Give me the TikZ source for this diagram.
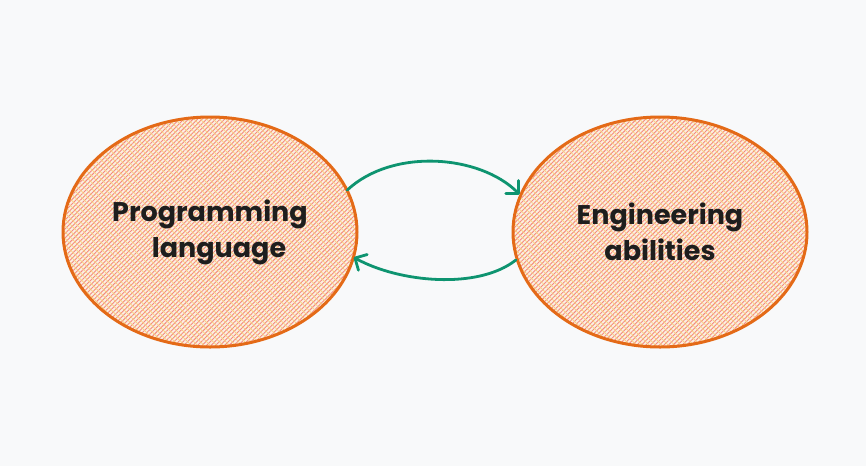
\documentclass[tikz,border=0pt]{standalone}
\usepackage{fontspec}
\setmainfont{Poppins}
\usetikzlibrary{shapes.geometric,patterns.meta,arrows.meta}
\definecolor{bg}{HTML}{F8F9FA}
\definecolor{orangeline}{HTML}{E46A17}
\definecolor{hatchred}{HTML}{F38A80}
\definecolor{hatchyellow}{HTML}{F7C75A}
\definecolor{fillbase}{HTML}{FCEEE2}
\definecolor{arrowgreen}{HTML}{0E9470}
\definecolor{ink}{HTML}{1E1E1E}
\tikzset{
  bubble/.style={ellipse, draw=orangeline, line width=3pt,
    minimum width=294pt, minimum height=230pt, inner sep=0pt,
    preaction={fill=fillbase},
    preaction={pattern={Lines[angle=45,distance=3.2pt,line width=0.9pt]}, pattern color=hatchred},
    pattern={Lines[angle=-45,distance=4.5pt,line width=0.7pt]}, pattern color=hatchyellow!80,
    font=\fontsize{27}{36}\selectfont\bfseries, text=ink, align=center},
  link/.style={draw=arrowgreen, line width=2.8pt, line cap=round,
    -{Straight Barb[length=9pt,width=18pt,line width=2.8pt,round]}}
}
\begin{document}
\begin{tikzpicture}[x=1pt,y=-1pt]
\fill[bg] (0,0) rectangle (866,466);
\useasboundingbox (0,0) rectangle (866,466);
\node[bubble] (L) at (210,232) {Programming\\\hspace*{18pt}language};
\node[bubble] (R) at (660,232) {Engineering\\abilities};
\draw[link] (L.17) .. controls +(45,-42) and +(-40,-40) .. (R.165);
\draw[link] (R.191) .. controls +(-38,30) and +(45,25) .. (L.-10);
\end{tikzpicture}
\end{document}
